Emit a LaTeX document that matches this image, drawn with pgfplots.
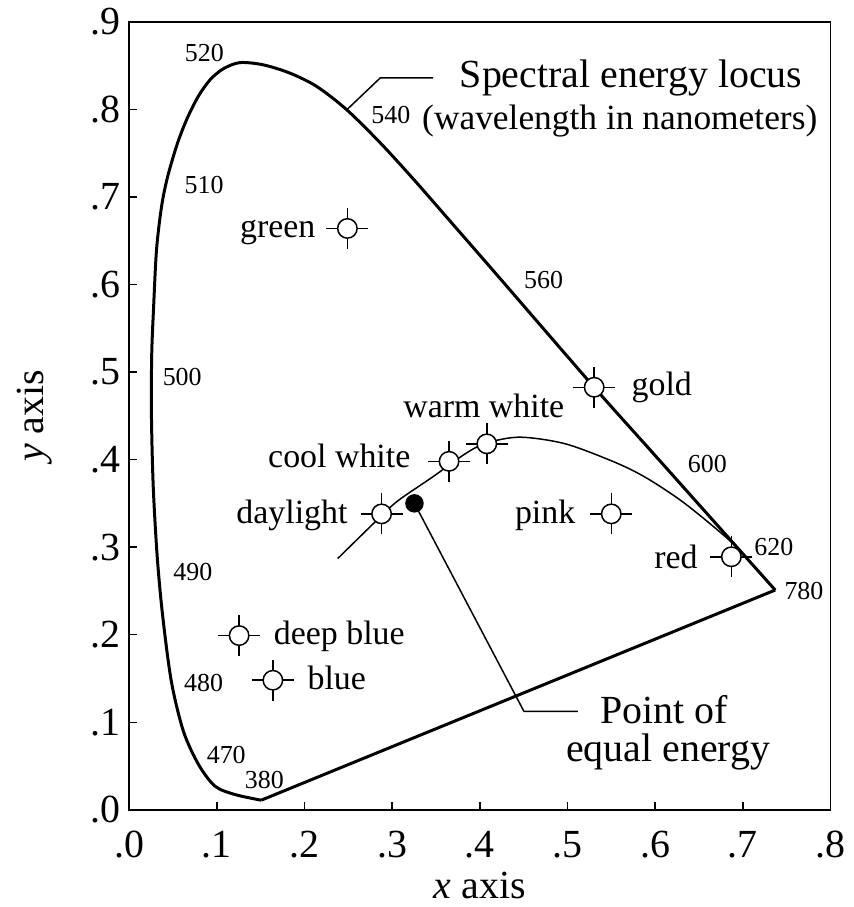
\documentclass[border=0pt]{standalone}
\usepackage{fontspec}
\setmainfont{Liberation Serif}
\usepackage{pgfplots}
\pgfplotsset{compat=1.18}
\newcommand\fA{\fontsize{16}{19}\selectfont}
\newcommand\fB{\fontsize{13.6}{16}\selectfont}
\newcommand\fC{\fontsize{10.4}{12}\selectfont}
\newcommand\fD{\fontsize{14.2}{17}\selectfont}
\pgfdeclareplotmark{ccross}{%
  \pgfpathmoveto{\pgfqpoint{-8.4pt}{0pt}}\pgfpathlineto{\pgfqpoint{-3.9pt}{0pt}}%
  \pgfpathmoveto{\pgfqpoint{8.4pt}{0pt}}\pgfpathlineto{\pgfqpoint{3.9pt}{0pt}}%
  \pgfpathmoveto{\pgfqpoint{0pt}{8.2pt}}\pgfpathlineto{\pgfqpoint{0pt}{3.9pt}}%
  \pgfpathmoveto{\pgfqpoint{0pt}{-8.2pt}}\pgfpathlineto{\pgfqpoint{0pt}{-3.9pt}}%
  \pgfusepathqstroke
  \pgfpathcircle{\pgfpointorigin}{3.9pt}%
  \pgfusepathqfillstroke}
\begin{document}
\begin{tikzpicture}
\begin{axis}[
  at={(0,0)}, anchor=south west,
  scale only axis, width=281.4pt, height=316.2pt,
  xmin=0, xmax=0.8, ymin=0, ymax=0.9,
  axis line style={line width=0.6pt},
  tick pos=left, tick align=inside, major tick length=3.3pt,
  tick style={line width=0.6pt, black},
  xtick={0,0.1,0.2,0.3,0.4,0.5,0.6,0.7,0.8},
  ytick={0,0.1,0.2,0.3,0.4,0.5,0.6,0.7,0.8,0.9},
  xticklabels={.0,.1,.2,.3,.4,.5,.6,.7,.8},
  yticklabels={.0,.1,.2,.3,.4,.5,.6,.7,.8,.9},
  /pgf/number format/assume math mode=true,
  xticklabel style={font=\fA, yshift=-5pt},
  yticklabel style={font=\fA},
  xlabel={\textit{x} axis},
  ylabel={\textit{y} axis},
  every axis x label/.style={at={(axis description cs:0.5,0)}, anchor=base, yshift=-35.5pt, font=\fA},
  every axis y label/.style={at={(axis description cs:0,0.5)}, anchor=center, xshift=-37.8pt, rotate=90, font=\fA},
  clip=false,
]
% Planckian locus
\addplot[line width=0.6pt, smooth, no marks] coordinates {
 (0.238,0.287) (0.288,0.336) (0.308,0.354) (0.346,0.380) (0.384,0.407)
 (0.408,0.419) (0.446,0.4256) (0.4977,0.418) (0.554,0.397) (0.5885,0.380)
 (0.627,0.355) (0.66,0.329) (0.69,0.303) (0.71,0.281) (0.737,0.251)};
% spectral locus (curved part, 380 to 780)
\addplot[line width=1.2pt, smooth, no marks] coordinates {
 (0.1507,0.011) (0.121,0.0174) (0.098,0.027) (0.0793,0.0516) (0.062,0.0896)
 (0.0482,0.1466) (0.0382,0.2224) (0.032,0.29) (0.0275,0.37) (0.0255,0.45)
 (0.0258,0.52) (0.028,0.575) (0.0313,0.64) (0.0371,0.6895) (0.0441,0.7237)
 (0.0553,0.7616) (0.0664,0.790) (0.0790,0.815) (0.0926,0.834) (0.1077,0.8465)
 (0.1266,0.8534) (0.1532,0.8508) (0.1836,0.8413) (0.2141,0.8261) (0.2483,0.7995)
 (0.2866,0.7616) (0.3248,0.7198) (0.3630,0.676) (0.4204,0.610) (0.5305,0.4826)
 (0.60,0.4047) (0.737,0.251)};
% line of purples
\addplot[line width=1.2pt, no marks] coordinates {(0.737,0.251) (0.1507,0.011)};
% leader lines
\addplot[line width=0.6pt, no marks] coordinates {(0.2483,0.7995) (0.2866,0.836) (0.3469,0.836)};
\addplot[line width=0.6pt, no marks] coordinates {(0.3255,0.350) (0.4504,0.1124) (0.5118,0.1124)};
% sources
\addplot[only marks, mark=ccross, line width=0.6pt, mark options={fill=white, draw=black}] coordinates {
 (0.249,0.664) (0.5305,0.4826) (0.408,0.418) (0.365,0.398) (0.288,0.338)
 (0.550,0.338) (0.687,0.289) (0.1255,0.199) (0.164,0.148)};
% equal energy point
\addplot[only marks, mark=*, mark size=3.5pt, black] coordinates {(0.3255,0.350)};
% texts
\node[font=\fA, anchor=base west, inner sep=0] at (axis cs:0.3767,0.8246) {Spectral energy locus};
\node[font=\fD, anchor=base west, inner sep=0] at (axis cs:0.3338,0.777) {(wavelength in nanometers)};
\node[font=\fA, anchor=base, inner sep=0] at (axis cs:0.6105,0.0991) {Point of};
\node[font=\fA, anchor=base, inner sep=0] at (axis cs:0.615,0.0554) {equal energy};
\node[font=\fC] at (axis cs:0.0858,0.864) {520};
\node[font=\fC] at (axis cs:0.0856,0.714) {510};
\node[font=\fC] at (axis cs:0.0606,0.494) {500};
\node[font=\fC] at (axis cs:0.0727,0.272) {490};
\node[font=\fC] at (axis cs:0.0849,0.1446) {480};
\node[font=\fC] at (axis cs:0.1108,0.063) {470};
\node[font=\fC] at (axis cs:0.1543,0.0345) {380};
\node[font=\fC] at (axis cs:0.2985,0.794) {540};
\node[font=\fC] at (axis cs:0.4728,0.6048) {560};
\node[font=\fC] at (axis cs:0.6596,0.395) {600};
\node[font=\fC] at (axis cs:0.7354,0.3007) {620};
\node[font=\fC] at (axis cs:0.7698,0.2494) {780};
\node[font=\fB, anchor=base east, inner sep=0] at (axis cs:0.213,0.6534) {green};
\node[font=\fB, anchor=base west, inner sep=0] at (axis cs:0.5727,0.4727) {gold};
\node[font=\fB, anchor=base, inner sep=0] at (axis cs:0.4046,0.4484) {warm white};
\node[font=\fB, anchor=base east, inner sep=0] at (axis cs:0.3214,0.3915) {cool white};
\node[font=\fB, anchor=base east, inner sep=0] at (axis cs:0.2497,0.3269) {daylight};
\node[font=\fB, anchor=base east, inner sep=0] at (axis cs:0.5095,0.3269) {pink};
\node[font=\fB, anchor=base east, inner sep=0] at (axis cs:0.649,0.2756) {red};
\node[font=\fB, anchor=base west, inner sep=0] at (axis cs:0.1646,0.1883) {deep blue};
\node[font=\fB, anchor=base west, inner sep=0] at (axis cs:0.2030,0.137) {blue};
\end{axis}
\path (-51.8pt,-38pt) rectangle (287.8pt,324.8pt);
\end{tikzpicture}
\end{document}
